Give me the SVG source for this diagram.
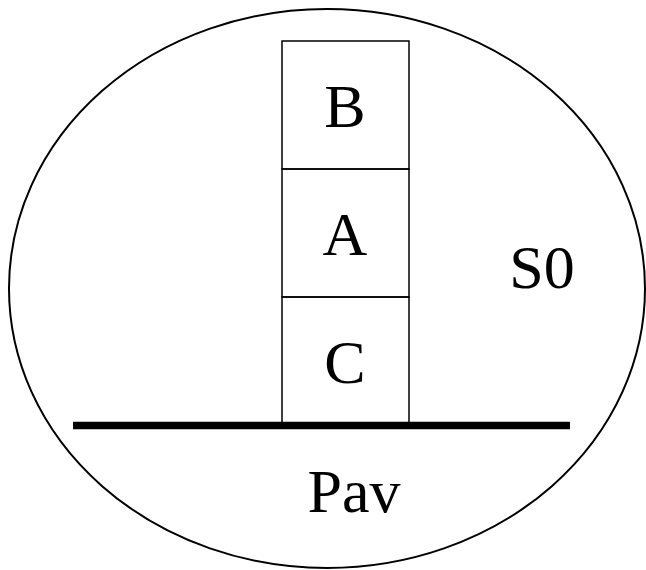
<svg xmlns="http://www.w3.org/2000/svg" width="646" height="570" viewBox="0 0 646 570">
<style>
.s{fill:none;stroke:#000;stroke-width:1.5}
.t{font-family:"Liberation Serif","Times New Roman",serif;font-size:62px;fill:#000;text-anchor:middle}
</style>
<rect width="646" height="570" fill="#fff"/>
<g id="world"><ellipse class="s" cx="327" cy="288.5" rx="318" ry="279.5" style="stroke-width:2"/>
<text class="t" x="542" y="288">S0</text></g>
<g id="B"><rect class="s" x="282" y="41" width="127" height="128"/><text class="t" x="345" y="127">B</text></g>
<g id="A"><rect class="s" x="282" y="169" width="127" height="128"/><text class="t" x="345" y="255">A</text></g>
<g id="C"><rect class="s" x="282" y="297" width="127" height="128"/><text class="t" x="345" y="383">C</text></g>
<g id="Pav"><line x1="73" y1="425.5" x2="570" y2="425.5" stroke="#000" stroke-width="7.5"/><text class="t" x="354" y="512">Pav</text></g>
</svg>
